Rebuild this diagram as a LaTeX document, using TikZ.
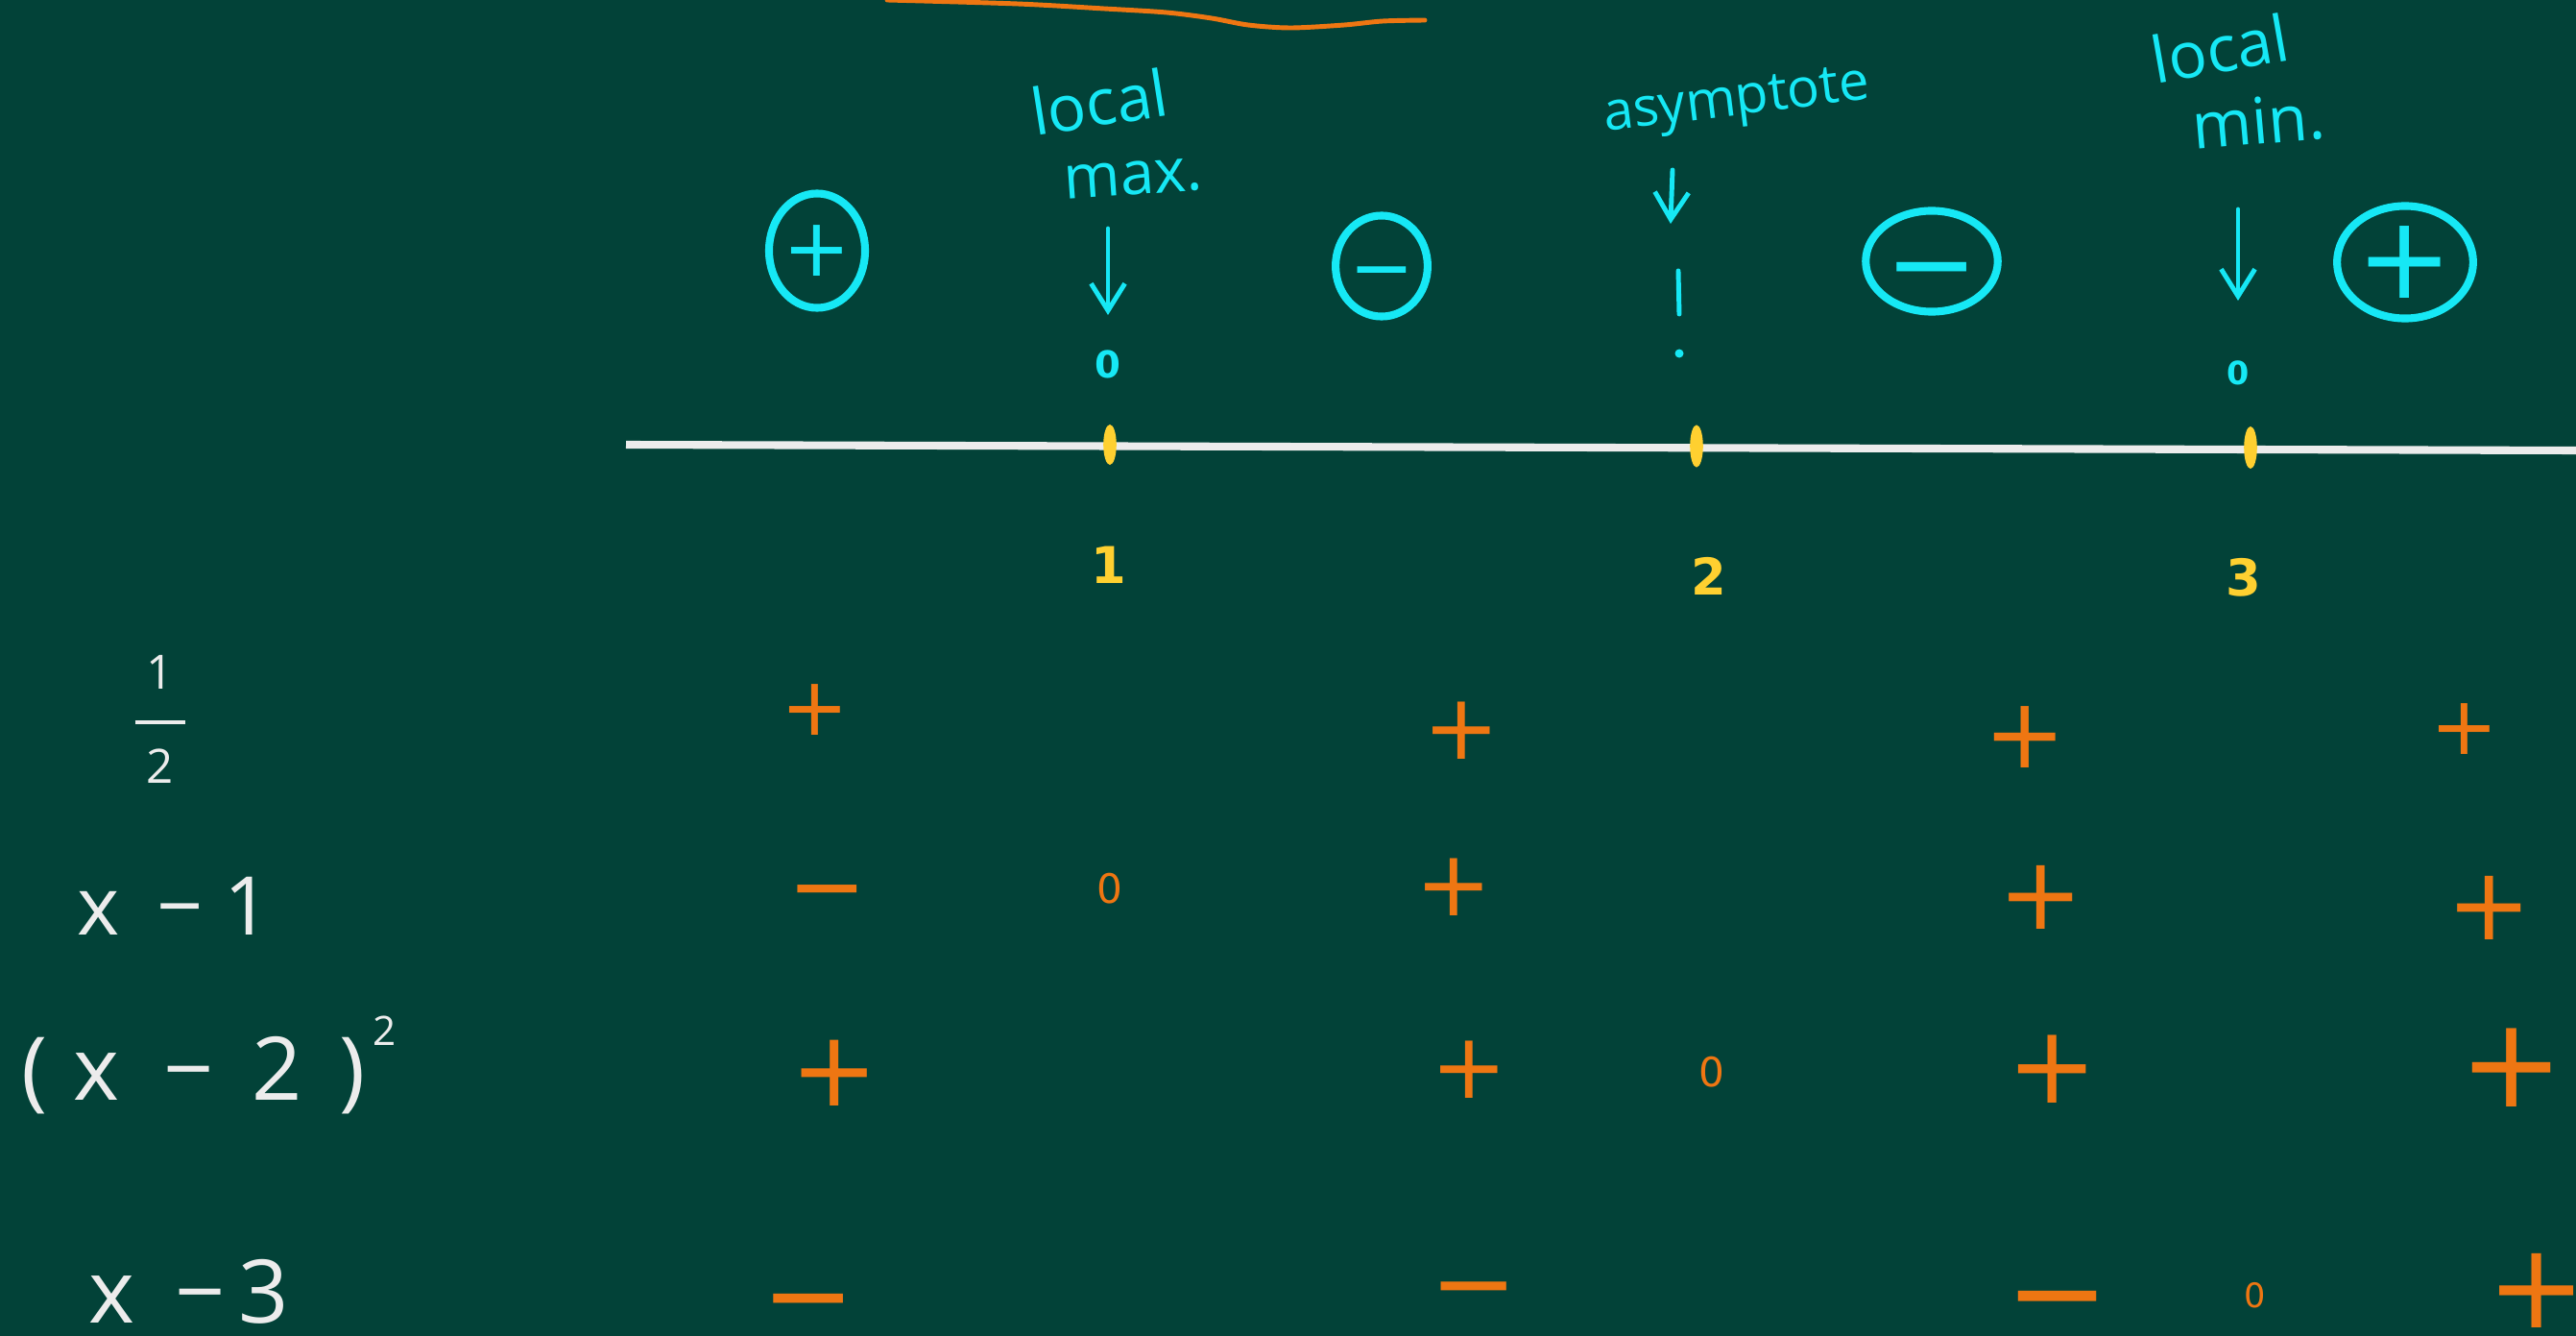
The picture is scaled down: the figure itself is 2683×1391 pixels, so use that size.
\documentclass[tikz,border=0pt]{standalone}
\usepackage{fontspec}
\setmainfont{Open Sans}
\newfontfamily\signfont{DejaVu Sans}
\usetikzlibrary{arrows.meta,shapes.geometric}
\definecolor{board}{RGB}{2,66,56}
\definecolor{chalkcyan}{RGB}{22,232,245}
\definecolor{chalkyellow}{RGB}{255,208,48}
\definecolor{chalkorange}{RGB}{238,118,18}
\definecolor{chalkwhite}{RGB}{236,236,236}
\newcommand{\lowminus}{\raisebox{-0.365em}[0pt][0pt]{−}}
\begin{document}
\begin{tikzpicture}[x=0.01cm,y=-0.01cm,
  sgn/.style={text=chalkorange,inner sep=0pt,font=\signfont\fontsize{#1}{#1}\selectfont},
  sgn/.default=26,
  csign/.style={draw=chalkcyan,line width=2.3pt,ellipse,inner sep=0pt,text=chalkcyan,
    font=\signfont\fontsize{#1}{#1}\selectfont},
  cnote/.style={text=chalkcyan,inner sep=0pt,font=\fontsize{#1}{#1}\selectfont},
  cnote/.default=19,
  czero/.style={text=chalkcyan,inner sep=0pt,font=\signfont\bfseries\fontsize{11}{11}\selectfont},
  ynum/.style={text=chalkyellow,inner sep=0pt,font=\signfont\bfseries\fontsize{15}{15}\selectfont},
  lbl/.style={text=chalkwhite,inner sep=0pt,font=\fontsize{#1}{#1}\selectfont},
  lbl/.default=26,
  arr/.style={draw=chalkcyan,line width=1.4pt,line cap=round,-{Straight Barb[length=8pt,width=10pt,line width=1.4pt]}},
  tick/.style={fill=chalkyellow},
]
% background / bounding box
\fill[board] (0,0) rectangle (2683,1391);
\useasboundingbox (0,0) rectangle (2683,1391);

% orange squiggle at top
\draw[chalkorange,line width=1.4pt,line cap=round] plot[smooth] coordinates
  {(924,0) (1060,4) (1150,9) (1215,13) (1262,19) (1300,26) (1344,29) (1400,26) (1440,22) (1484,21)};

% number line
\coordinate (nlL) at (652,463);
\coordinate (nlR) at (2683,469);
\draw[chalkwhite,line width=2.3pt] (nlL) -- (nlR);
\fill[tick] (1156,463) ellipse [x radius=0.068cm, y radius=0.21cm];
\fill[tick] (1767,464.5) ellipse [x radius=0.068cm, y radius=0.22cm];
\fill[tick] (2344,466) ellipse [x radius=0.068cm, y radius=0.22cm];

% yellow labels
\node[ynum] (n1) at (1155,588) {1};
\node[ynum] (n2) at (1780,600) {2};
\node[ynum] (n3) at (2337,601) {3};

% circled signs
\node[csign=24,minimum width=0.99cm,minimum height=1.19cm] (s1) at (851,261) {+};
\node[csign=23,minimum width=0.92cm,minimum height=1.05cm] (s2) at (1439,277) {\lowminus};
\node[csign=33,minimum width=1.30cm,minimum height=1.05cm] (s3) at (2012,272) {\lowminus};
\node[csign=34,minimum width=1.32cm,minimum height=1.17cm] (s4) at (2505,273) {+};

% annotations
\node[cnote,rotate=9] (lmaxa) at (1145,106) {local};
\node[cnote=18,rotate=4] (lmaxb) at (1180,186) {max.};
\node[cnote=16,rotate=7] (asym) at (1809,108) {asymptote};
\node[cnote,rotate=10] (lmina) at (2312,50) {local};
\node[cnote,rotate=5] (lminb) at (2352,126) {min.};

% zeros on the line
\node[czero] (zmax) at (1154,379) {0};
\node[czero,font=\signfont\bfseries\fontsize{9.5}{9.5}\selectfont] (zmin) at (2331,388) {0};

% arrows
\coordinate (amaxtop) at (1154,238);
\coordinate (amaxtip) at (1154,328);
\draw[arr] (amaxtop) -- (amaxtip);
\coordinate (aasytop) at (1742,177);
\coordinate (aasytip) at (1740,233);
\draw[arr] (aasytop) -- (aasytip);
\coordinate (amintop) at (2331,218);
\coordinate (amintip) at (2331,313);
\draw[arr] (amintop) -- (amintip);

% asymptote mark
\draw[chalkcyan,line width=1.4pt,line cap=round] (1748,282) -- (1749,327);
\fill[chalkcyan] (1749,368) circle [radius=0.045cm];

% row labels
\node[lbl,align=center,font=\fontsize{14}{14}\selectfont] (half) at (167,749)
  {1\\\rule[3.6pt]{15pt}{1.2pt}\\2};
\node[lbl=24,anchor=base west] (xm1) at (80,973) {x\hspace{0.46em}−\hspace{0.26em}1};
\node[lbl=26,anchor=base west] (xm2) at (22,1145)
  {(\hspace{.29em}x\hspace{.51em}−\hspace{.43em}2\hspace{.43em})\hspace{.08em}\raisebox{0.62em}{\fontsize{12}{12}\selectfont 2}};
\node[lbl=26,anchor=base west] (xm3) at (92,1377) {x\hspace{.455em}−\hspace{.15em}3};

% row 1 : 1/2
\node[sgn=24] (r1a) at (849,739) {+};
\node[sgn=27] (r1b) at (1522,761) {+};
\node[sgn=29] (r1c) at (2109,768) {+};
\node[sgn=24] (r1d) at (2567,759) {+};
% row 2 : x-1
\node[sgn=28] (r2a) at (862,921) {\lowminus};
\node[sgn=12] (r2z) at (1156,925) {0};
\node[sgn=27] (r2b) at (1514,924) {+};
\node[sgn=30] (r2c) at (2126,934) {+};
\node[sgn=30] (r2d) at (2593,945) {+};
% row 3 : (x-2)^2
\node[sgn=31] (r3a) at (869,1117) {+};
\node[sgn=27] (r3b) at (1530,1114) {+};
\node[sgn=12] (r3z) at (1783,1116) {0};
\node[sgn=32] (r3c) at (2138,1113) {+};
\node[sgn=37] (r3d) at (2616,1112) {+};
% row 4 : x-3
\node[sgn=33] (r4a) at (842,1346) {\lowminus};
\node[sgn=31] (r4b) at (1535,1334) {\lowminus};
\node[sgn=37] (r4c) at (2143,1343) {\lowminus};
\node[sgn=10] (r4z) at (2349,1349) {0};
\node[sgn=35] (r4d) at (2642,1344) {+};
\end{tikzpicture}
\end{document}
